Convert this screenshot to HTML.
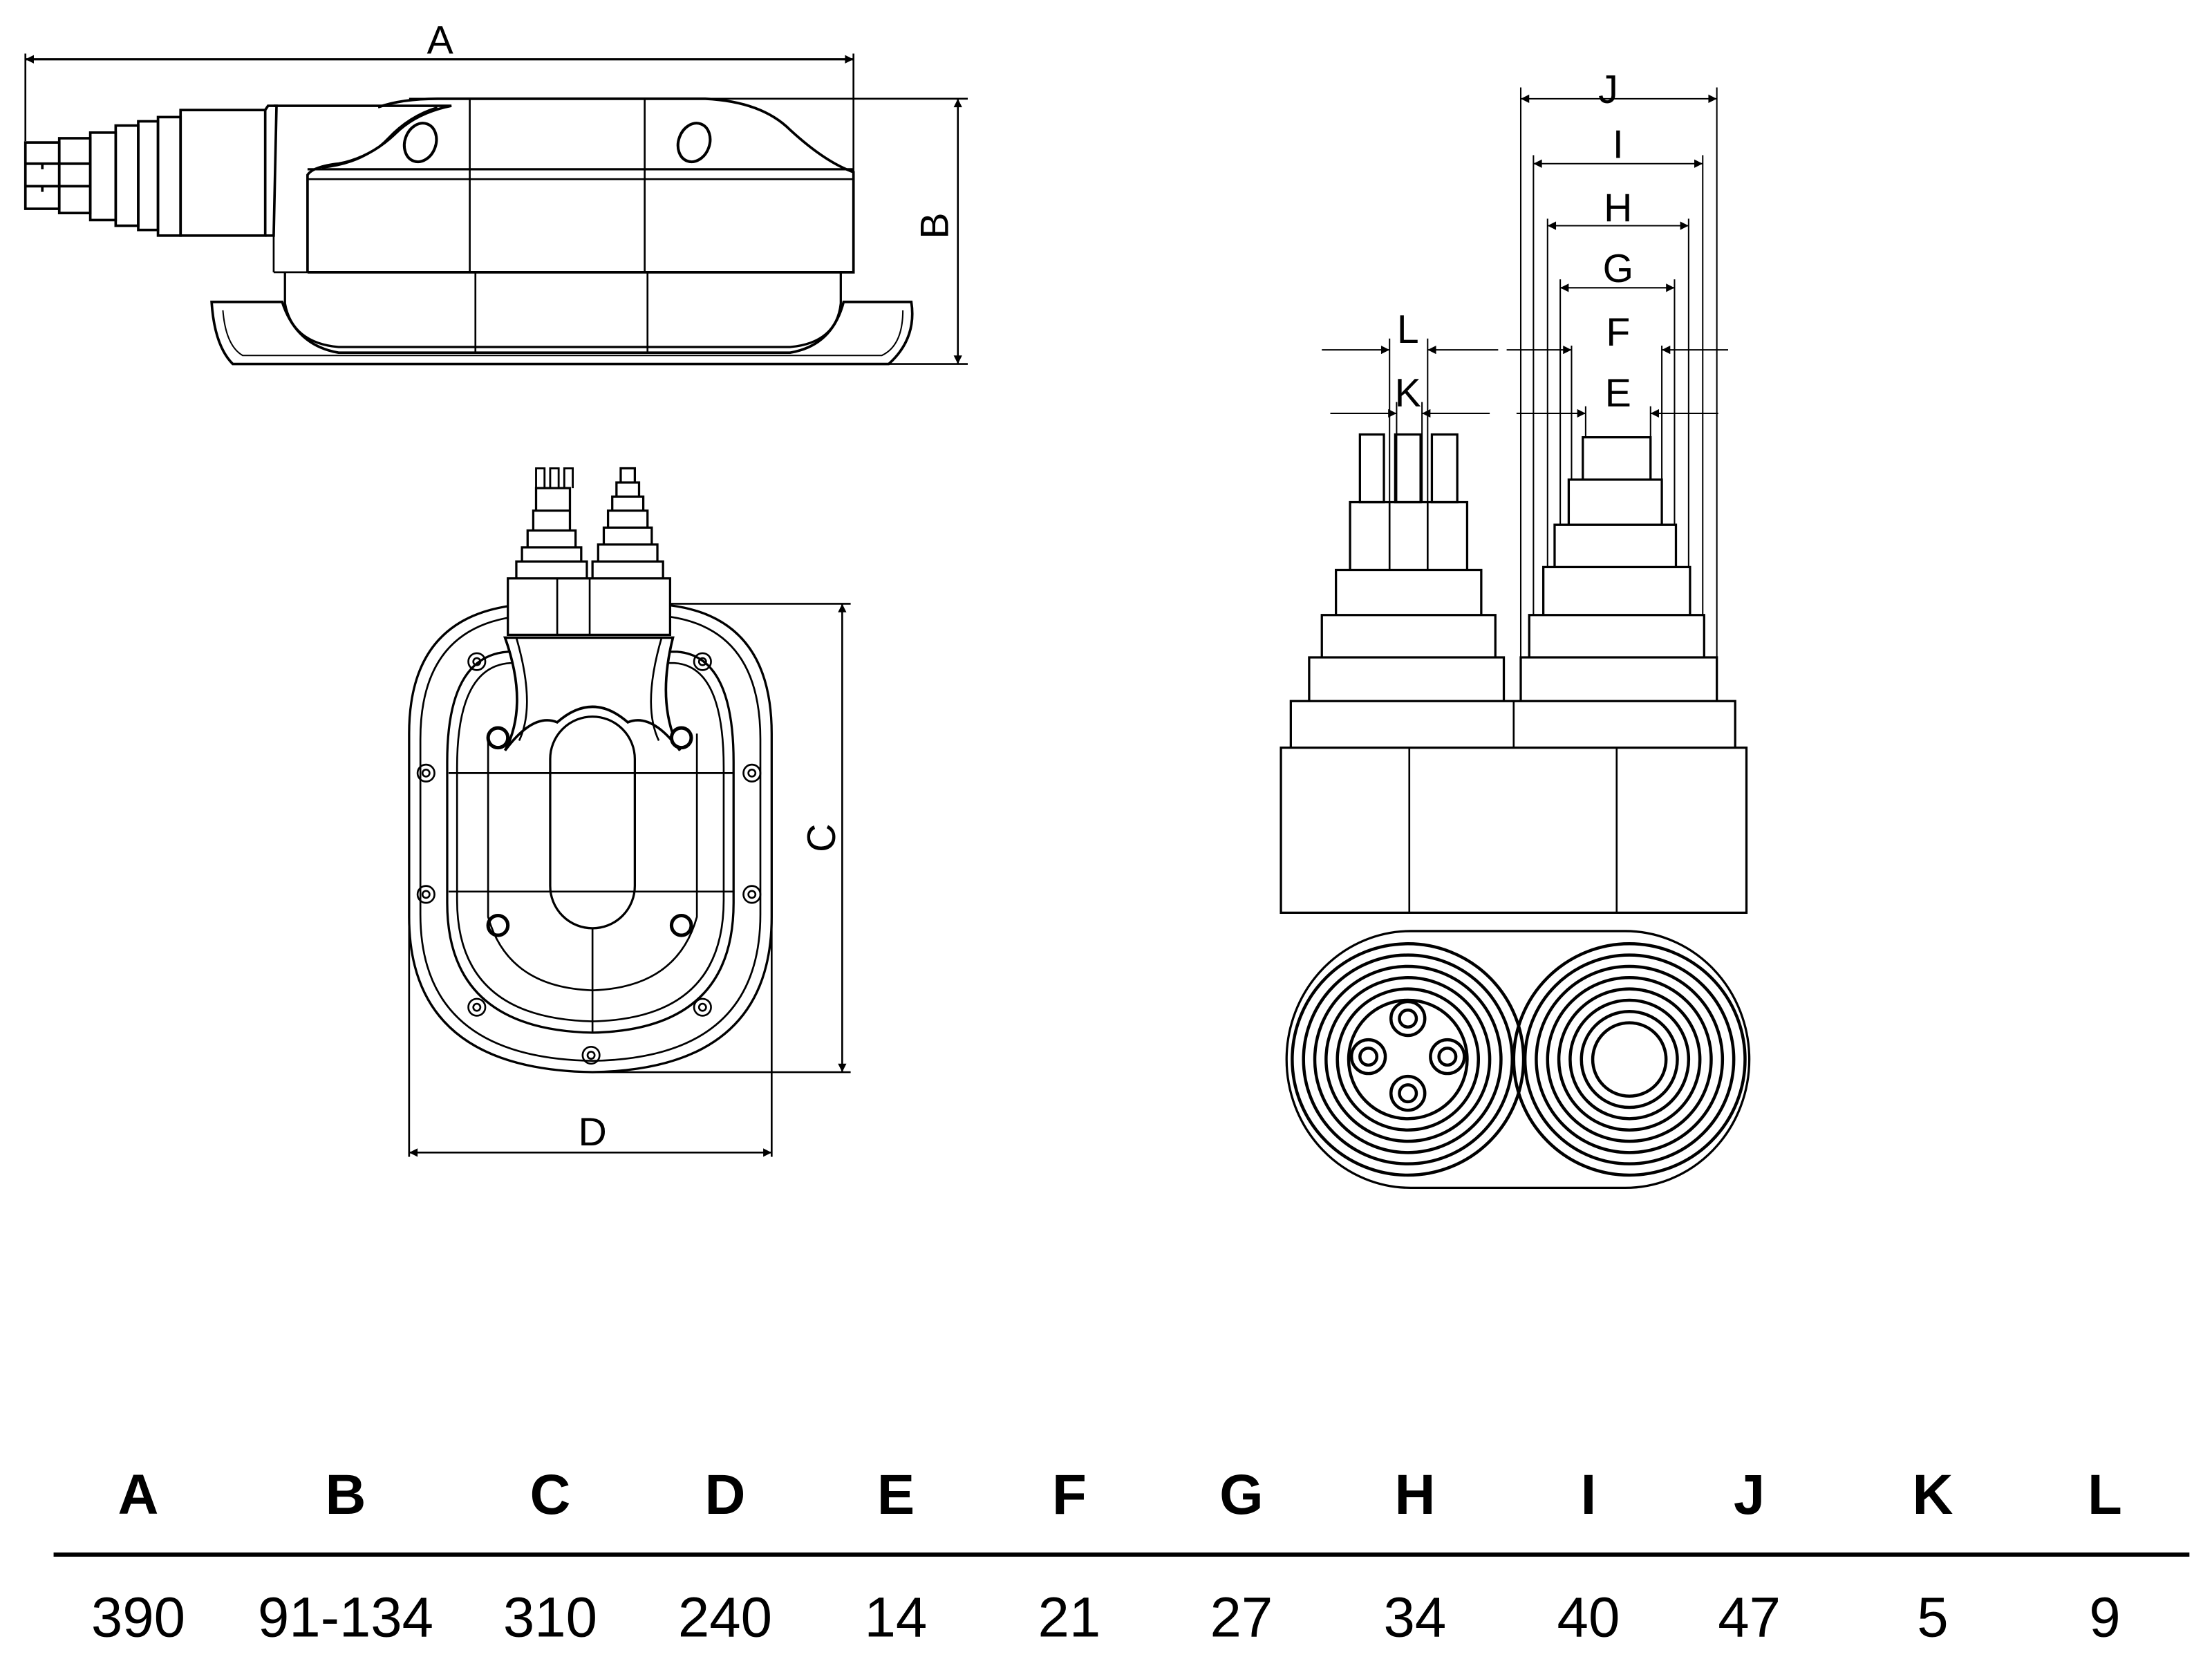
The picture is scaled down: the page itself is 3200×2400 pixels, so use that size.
<!DOCTYPE html>
<html><head><meta charset="utf-8"><style>
html,body{margin:0;padding:0;background:#fff}
svg{display:block}
text{font-family:"Liberation Sans",sans-serif}
</style></head><body>
<svg width="3200" height="2400" viewBox="0 0 1568 1176" xmlns="http://www.w3.org/2000/svg">
<defs>
<marker id="a" viewBox="0 0 10 10" refX="10" refY="5" markerWidth="10" markerHeight="6" orient="auto-start-reverse" markerUnits="userSpaceOnUse"><path d="M0,0L10,5L0,10z" fill="#000"/></marker>
</defs>
<g fill="none" stroke="#000" stroke-width="1.3">
<!-- ===== Side view ===== -->
<line x1="18" y1="42" x2="605" y2="42" marker-start="url(#a)" marker-end="url(#a)" stroke-width="1.6"/>
<line x1="18" y1="38" x2="18" y2="100"/>
<line x1="605" y1="38" x2="605" y2="190"/>
<line x1="679" y1="70" x2="679" y2="258" marker-start="url(#a)" marker-end="url(#a)"/>
<line x1="290" y1="70" x2="686" y2="70"/>
<line x1="600" y1="258" x2="686" y2="258"/>
<!-- connector steps -->
<g stroke-width="1.8">
<rect x="18" y="101" width="24" height="47"/>
<line x1="18" y1="116" x2="42" y2="116"/><line x1="18" y1="132" x2="42" y2="132"/>
<line x1="30" y1="116" x2="30" y2="120"/><line x1="30" y1="132" x2="30" y2="136"/>
<rect x="42" y="98" width="22" height="53"/>
<line x1="42" y1="116" x2="64" y2="116"/><line x1="42" y1="132" x2="64" y2="132"/>
<rect x="64" y="94" width="18" height="62"/>
<rect x="82" y="89" width="16" height="71"/>
<rect x="98" y="86" width="14" height="77"/>
<rect x="112" y="83" width="16" height="84"/>
<rect x="128" y="78" width="60" height="89"/>
<path d="M188,78 L190,75 H196 L194,167 H188"/>
</g>
<!-- body -->
<path d="M194,75 H320 Q295,80 280,95 Q262,112 240,116 Q222,118 218,124 L218,193" stroke-width="1.8"/>
<path d="M310,76 Q290,82 275,98 Q258,116 228,119" stroke-width="1.2"/>
<path d="M268,76 Q285,70 310,70 H500 Q540,72 560,92 Q585,115 605,122 V193 H218" stroke-width="1.8"/>
<line x1="194" y1="167" x2="194" y2="193"/><line x1="194" y1="193" x2="218" y2="193"/>
<line x1="218" y1="120" x2="605" y2="120" stroke-width="1.6"/>
<line x1="218" y1="127" x2="605" y2="127"/>
<line x1="333" y1="70" x2="333" y2="193"/><line x1="457" y1="70" x2="457" y2="193"/>
<ellipse cx="298" cy="101" rx="11" ry="14" stroke-width="2" transform="rotate(20 298 101)"/>
<ellipse cx="492" cy="101" rx="11" ry="14" stroke-width="2" transform="rotate(20 492 101)"/>
<path d="M202,193 V215 Q207,243 240,246 H560 Q593,243 596,215 V193" stroke-width="1.6"/>
<path d="M150,214 H200 Q210,245 240,250 H560 Q590,245 598,214 H646 Q650,240 630,258 H165 Q152,245 150,214 Z" stroke-width="1.8"/>
<path d="M158,220 Q160,245 172,252 H625 Q640,245 640,220" stroke-width="1"/>
<line x1="337" y1="193" x2="337" y2="250"/><line x1="459" y1="193" x2="459" y2="250"/>
<!-- ===== Front view ===== -->
<line x1="420" y1="428" x2="603" y2="428"/><line x1="420" y1="760" x2="603" y2="760"/>
<line x1="597" y1="428" x2="597" y2="760" marker-start="url(#a)" marker-end="url(#a)"/>
<line x1="290" y1="560" x2="290" y2="820"/><line x1="547" y1="560" x2="547" y2="820"/>
<line x1="290" y1="817" x2="547" y2="817" marker-start="url(#a)" marker-end="url(#a)"/>
<path d="M290,520 Q290,430 380,428 H460 Q547,430 547,520 V650 Q547,758 420,760 Q290,758 290,650 Z" stroke-width="1.6"/>
<path d="M298,524 Q298,438 380,436 H460 Q539,438 539,524 V648 Q539,750 420,752 Q298,750 298,648 Z"/>
<path d="M317,540 Q317,465 360,462 H480 Q520,465 520,540 V640 Q520,730 420,732 Q317,730 317,640 Z" stroke-width="1.6"/>
<path d="M324,544 Q324,472 362,470 H478 Q513,472 513,544 V638 Q513,722 420,724 Q324,722 324,638 Z"/>
<path d="M346,520 V650 Q360,700 420,702 Q480,700 494,650 V520"/>
<line x1="318" y1="548" x2="520" y2="548"/><line x1="318" y1="632" x2="520" y2="632"/>
<rect x="390" y="508" width="60" height="150" rx="30" stroke-width="1.6"/>
<line x1="420" y1="658" x2="420" y2="732"/>
<g>
<circle cx="338" cy="469" r="6"/><circle cx="338" cy="469" r="2.5"/>
<circle cx="498" cy="469" r="6"/><circle cx="498" cy="469" r="2.5"/>
<circle cx="302" cy="548" r="6"/><circle cx="302" cy="548" r="2.5"/>
<circle cx="533" cy="548" r="6"/><circle cx="533" cy="548" r="2.5"/>
<circle cx="302" cy="634" r="6"/><circle cx="302" cy="634" r="2.5"/>
<circle cx="533" cy="634" r="6"/><circle cx="533" cy="634" r="2.5"/>
<circle cx="338" cy="714" r="6"/><circle cx="338" cy="714" r="2.5"/>
<circle cx="498" cy="714" r="6"/><circle cx="498" cy="714" r="2.5"/>
<circle cx="419" cy="748" r="6"/><circle cx="419" cy="748" r="2.5"/>
<circle cx="353" cy="656" r="7" stroke-width="2.5"/><circle cx="483" cy="656" r="7" stroke-width="2.5"/>
</g>
<!-- connector head -->
<path d="M360,450 V410 H475 V450 Z" fill="#fff" stroke-width="1.6"/>
<line x1="395" y1="410" x2="395" y2="450"/><line x1="418" y1="410" x2="418" y2="450"/>
<path d="M358,452 H477 Q465,500 482,532 Q462,505 445,512 Q420,490 395,512 Q378,505 358,532 Q375,500 358,452 Z" fill="#fff" stroke-width="1.8"/>
<path d="M366,452 Q380,500 368,525 M469,452 Q455,500 467,525"/>
<circle cx="353" cy="523" r="7" stroke-width="2.5" fill="#fff"/><circle cx="483" cy="523" r="7" stroke-width="2.5" fill="#fff"/>
<path d="M366,410 V398 H416 V410 M370,398 V388 H412 V398 M374,388 V376 H408 V388 M378,376 V362 H404 V376 M380,362 V346 H404 V362" stroke-width="1.6"/>
<path d="M420,410 V398 H470 V410 M424,398 V386 H466 V398 M428,386 V374 H462 V386 M431,374 V362 H459 V374 M434,362 V352 H456 V362 M437,352 V342 H453 V352 M440,342 V332 H450 V342" stroke-width="1.6"/>
<path d="M380,346 V332 H386 V346 M390,346 V332 H396 V346 M400,346 V332 H406 V346" stroke-width="1.4"/>
<!-- ===== Right view ===== -->
<path d="M908,530 H1238 V647 H908 Z" stroke-width="1.6"/>
<line x1="999" y1="530" x2="999" y2="647"/><line x1="1146" y1="530" x2="1146" y2="647"/>
<path d="M915,530 V497 H1230 V530" stroke-width="1.6"/>
<line x1="1073" y1="497" x2="1073" y2="530"/>
<path d="M928,497 V466 H1066 V497 M937,466 V436 H1060 V466 M947,436 V404 H1050 V436 M957,404 V356 H1040 V404" stroke-width="1.6"/>
<line x1="985" y1="356" x2="985" y2="404"/><line x1="1012" y1="356" x2="1012" y2="404"/>
<rect x="964" y="308" width="17" height="48" stroke-width="1.6"/><rect x="989" y="308" width="18" height="48" stroke-width="1.6"/><rect x="1015" y="308" width="18" height="48" stroke-width="1.6"/>
<path d="M1078,497 V466 H1217 V497 M1084,466 V436 H1208 V466 M1094,436 V402 H1198 V436 M1102,402 V372 H1188 V402 M1112,372 V340 H1178 V372 M1122,340 V310 H1170 V340" stroke-width="1.6"/>
<!-- dims right -->
<g stroke-width="1">
<line x1="1078" y1="62" x2="1078" y2="466"/><line x1="1217" y1="62" x2="1217" y2="466"/>
<line x1="1078" y1="70" x2="1217" y2="70" marker-start="url(#a)" marker-end="url(#a)"/>
<line x1="1087" y1="110" x2="1087" y2="436"/><line x1="1207" y1="110" x2="1207" y2="436"/>
<line x1="1087" y1="116" x2="1207" y2="116" marker-start="url(#a)" marker-end="url(#a)"/>
<line x1="1097" y1="155" x2="1097" y2="402"/><line x1="1197" y1="155" x2="1197" y2="402"/>
<line x1="1097" y1="160" x2="1197" y2="160" marker-start="url(#a)" marker-end="url(#a)"/>
<line x1="1106" y1="198" x2="1106" y2="372"/><line x1="1187" y1="198" x2="1187" y2="372"/>
<line x1="1106" y1="204" x2="1187" y2="204" marker-start="url(#a)" marker-end="url(#a)"/>
<line x1="1114" y1="245" x2="1114" y2="340"/><line x1="1178" y1="245" x2="1178" y2="340"/>
<line x1="1068" y1="248" x2="1114" y2="248" marker-end="url(#a)"/><line x1="1225" y1="248" x2="1178" y2="248" marker-end="url(#a)"/>
<line x1="1124" y1="288" x2="1124" y2="310"/><line x1="1170" y1="288" x2="1170" y2="310"/>
<line x1="1075" y1="293" x2="1124" y2="293" marker-end="url(#a)"/><line x1="1218" y1="293" x2="1170" y2="293" marker-end="url(#a)"/>
<line x1="985" y1="240" x2="985" y2="356"/><line x1="1012" y1="240" x2="1012" y2="356"/>
<line x1="937" y1="248" x2="985" y2="248" marker-end="url(#a)"/><line x1="1062" y1="248" x2="1012" y2="248" marker-end="url(#a)"/>
<line x1="990" y1="285" x2="990" y2="356"/><line x1="1008" y1="285" x2="1008" y2="356"/>
<line x1="943" y1="293" x2="990" y2="293" marker-end="url(#a)"/><line x1="1056" y1="293" x2="1008" y2="293" marker-end="url(#a)"/>
</g>
<!-- bottom circles -->
<path d="M1000,660 H1152 A88,91 0 0 1 1152,842 H1000 A88,91 0 0 1 1000,660 Z" stroke-width="1.6"/>
<g stroke-width="2.2">
<circle cx="998" cy="751" r="82"/><circle cx="998" cy="751" r="74"/><circle cx="998" cy="751" r="66"/><circle cx="998" cy="751" r="58"/><circle cx="998" cy="751" r="50"/><circle cx="998" cy="751" r="42"/>
<circle cx="1155" cy="751" r="82"/><circle cx="1155" cy="751" r="74"/><circle cx="1155" cy="751" r="66"/><circle cx="1155" cy="751" r="58"/><circle cx="1155" cy="751" r="50"/><circle cx="1155" cy="751" r="42"/><circle cx="1155" cy="751" r="34"/><circle cx="1155" cy="751" r="26"/>
<circle cx="998" cy="722" r="12"/><circle cx="998" cy="722" r="6"/>
<circle cx="970" cy="749" r="12"/><circle cx="970" cy="749" r="6"/>
<circle cx="1026" cy="749" r="12"/><circle cx="1026" cy="749" r="6"/>
<circle cx="998" cy="775" r="12"/><circle cx="998" cy="775" r="6"/>
</g>
<line x1="38" y1="1102" x2="1552" y2="1102" stroke-width="3"/>
</g>
<g font-size="28" text-anchor="middle" fill="#000">
<text x="312" y="38">A</text>
<text x="1140" y="73">J</text><text x="1147" y="112">I</text><text x="1147" y="157">H</text>
<text x="1147" y="200">G</text><text x="1147" y="245">F</text><text x="1147" y="288">E</text>
<text x="998" y="243">L</text><text x="998" y="288">K</text>
<text x="420" y="812">D</text>
<text transform="translate(672,160) rotate(-90)">B</text>
<text transform="translate(592,594) rotate(-90)">C</text>
</g>
<g font-size="40" text-anchor="middle" font-weight="bold" fill="#000">
<text x="98" y="1073">A</text><text x="245" y="1073">B</text><text x="390" y="1073">C</text><text x="514" y="1073">D</text><text x="635" y="1073">E</text><text x="758" y="1073">F</text><text x="880" y="1073">G</text><text x="1003" y="1073">H</text><text x="1126" y="1073">I</text><text x="1240" y="1073">J</text><text x="1370" y="1073">K</text><text x="1492" y="1073">L</text>
</g>
<g font-size="40" text-anchor="middle" fill="#000">
<text x="98" y="1160">390</text><text x="245" y="1160">91-134</text><text x="390" y="1160">310</text><text x="514" y="1160">240</text><text x="635" y="1160">14</text><text x="758" y="1160">21</text><text x="880" y="1160">27</text><text x="1003" y="1160">34</text><text x="1126" y="1160">40</text><text x="1240" y="1160">47</text><text x="1370" y="1160">5</text><text x="1492" y="1160">9</text>
</g>
</svg>
</body></html>
